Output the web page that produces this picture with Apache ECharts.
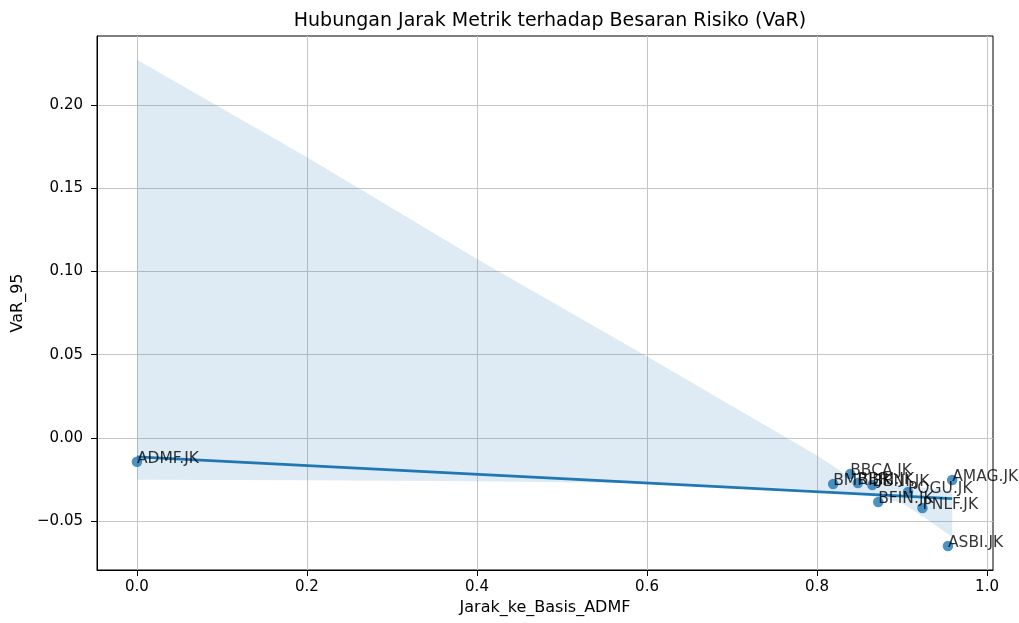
<!DOCTYPE html>
<html>
<head>
<meta charset="utf-8">
<script src="https://cdn.jsdelivr.net/npm/echarts@6/dist/echarts.min.js"></script>
<style>html,body{margin:0;padding:0;background:#fff}#chart{width:1019px;height:623px}</style>
</head>
<body>
<div id="chart"></div>
<script>
// Data
const tickers = ['ADMF.JK','BMRI.JK','BBCA.JK','BBRI.JK','BBNI.JK','BFIN.JK','POGU.JK','PNLF.JK','AMAG.JK','ASBI.JK'];
const jarak   = [0.000, 0.819, 0.839, 0.848, 0.865, 0.872, 0.907, 0.924, 0.959, 0.954];
const var95   = [-0.0142, -0.0276, -0.0216, -0.0270, -0.0282, -0.0384, -0.0324, -0.0420, -0.0252, -0.0648];

// Confidence band
const bandX     = [0, 0.2, 0.4, 0.6, 0.8, 0.835, 0.87, 0.9, 0.93, 0.959];
const bandUpper = [0.227, 0.1685, 0.1075, 0.0490, -0.0105, -0.0222, -0.026, -0.028, -0.030, -0.032];
const bandLower = [-0.0250, -0.0254, -0.0260, -0.0272, -0.031, -0.033, -0.0354, -0.039, -0.049, -0.0594];

const xTicks = [0, 0.2, 0.4, 0.6, 0.8, 1.0];
const yTicks = [-0.05, 0.00, 0.05, 0.10, 0.15, 0.20];

// OLS regression fit
const n = jarak.length;
const mx = jarak.reduce((a,b)=>a+b,0)/n;
const my = var95.reduce((a,b)=>a+b,0)/n;
let sxy = 0, sxx = 0;
for (let i=0;i<n;i++){ sxy += (jarak[i]-mx)*(var95[i]-my); sxx += (jarak[i]-mx)**2; }
const slope = sxy/sxx, intercept = my - slope*mx;
const xMinD = Math.min(...jarak), xMaxD = Math.max(...jarak);
const fitLine = [[xMinD, intercept + slope*xMinD], [xMaxD, intercept + slope*xMaxD]];

const pts = jarak.map((x,i)=>[x, var95[i], tickers[i]]);
const fmt = v => (Math.abs(v) < 1e-9 ? 0 : v).toFixed(1);
const fmtY = v => (Math.abs(v) < 1e-9 ? 0 : v).toFixed(2).replace('-', '\u2212');

const FONT = 'DejaVu Sans';
const chart = echarts.init(document.getElementById('chart'));
chart.setOption({
  animation: false,
  backgroundColor: '#fff',
  title: {
    text: 'Hubungan Jarak Metrik terhadap Besaran Risiko (VaR)',
    left: 545, textAlign: 'center', top: 7,
    textStyle: { fontFamily: FONT, fontSize: 19, fontWeight: 'normal', color: '#000' }
  },
  grid: { left: 97, right: 26, top: 36, bottom: 53, show: true, borderColor: '#000', borderWidth: 1, backgroundColor: 'transparent' },
  xAxis: {
    type: 'value', min: -0.047, max: 1.007,
    name: 'Jarak_ke_Basis_ADMF', nameLocation: 'middle', nameGap: 28,
    nameTextStyle: { fontFamily: FONT, fontSize: 16, color: '#000' },
    axisLine: { show: true, onZero: false, lineStyle: { color: '#000', width: 1 } },
    axisTick: { show: true, length: 6, lineStyle: { color: '#000' }, customValues: xTicks },
    axisLabel: { fontFamily: FONT, fontSize: 15, color: '#000', margin: 10, customValues: xTicks, formatter: fmt },
    splitLine: { show: true, lineStyle: { color: '#c6c6c6', width: 1 } }
  },
  yAxis: {
    type: 'value', min: -0.0792, max: 0.2413,
    name: 'VaR_95', nameLocation: 'middle', nameGap: 70,
    nameTextStyle: { fontFamily: FONT, fontSize: 16, color: '#000' },
    axisLine: { show: true, onZero: false, lineStyle: { color: '#000', width: 1 } },
    axisTick: { show: true, length: 6, lineStyle: { color: '#000' }, customValues: yTicks },
    axisLabel: { fontFamily: FONT, fontSize: 15, color: '#000', margin: 14, customValues: yTicks, formatter: fmtY },
    splitLine: { show: true, lineStyle: { color: '#c6c6c6', width: 1 } }
  },
  series: [
    {
      type: 'custom', z: 1, clip: true, silent: true,
      data: [0],
      renderItem: function(params, api) {
        const poly = [];
        for (let i=0;i<bandX.length;i++) poly.push(api.coord([bandX[i], bandUpper[i]]));
        for (let i=bandX.length-1;i>=0;i--) poly.push(api.coord([bandX[i], bandLower[i]]));
        return { type: 'polygon', shape: { points: poly }, style: { fill: 'rgba(31,119,180,0.15)', stroke: 'none' } };
      }
    },
    {
      type: 'scatter', z: 2, symbolSize: 10.5,
      itemStyle: { color: '#1f77b4', opacity: 0.8 },
      data: pts
    },
    {
      type: 'line', z: 3, showSymbol: false, symbol: 'none',
      lineStyle: { color: '#1f77b4', width: 2.8 },
      data: fitLine
    },
    {
      type: 'scatter', z: 4, symbolSize: 2, itemStyle: { color: 'transparent' },
      data: pts,
      label: {
        show: true, position: [1, 6], align: 'left', verticalAlign: 'bottom',
        formatter: p => p.data[2],
        fontFamily: FONT, fontSize: 15.5, color: '#000'
      }
    }
  ]
});
</script>
</body>
</html>
